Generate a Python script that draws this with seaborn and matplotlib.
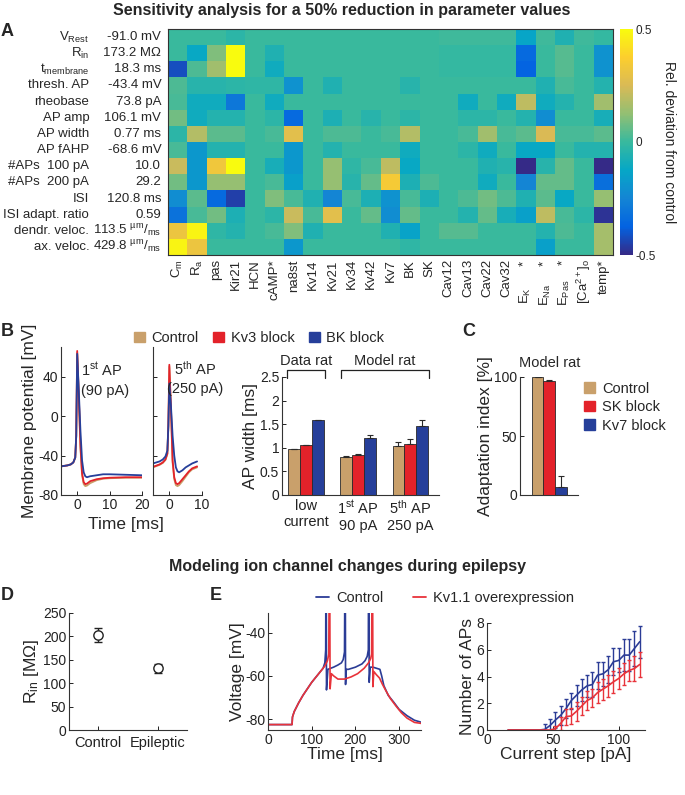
import numpy as np
import pandas as pd
import matplotlib
matplotlib.use("Agg")
import matplotlib.pyplot as plt
import matplotlib.transforms as mtransforms
from matplotlib.colors import LinearSegmentedColormap
from matplotlib.patches import Patch
from matplotlib.lines import Line2D
import seaborn as sns

sns.set_theme(style="white")
plt.rcParams['font.family'] = ['Liberation Sans', 'DejaVu Sans']
plt.rcParams['mathtext.fontset'] = 'custom'
plt.rcParams['mathtext.rm'] = 'Liberation Sans'
plt.rcParams['mathtext.it'] = 'Liberation Sans:italic'
plt.rcParams['mathtext.bf'] = 'Liberation Sans:bold'
plt.rcParams['axes.unicode_minus'] = False

# ---------------- DATA ----------------
param_names = [r"C$_{\rm m}$", r"R$_{\rm a}$", "pas", "Kir21", "HCN", "cAMP*", "na8st",
               "Kv14", "Kv21", "Kv34", "Kv42", "Kv7", "BK", "SK", "Cav12", "Cav13",
               "Cav22", "Cav32", r"E$_{\rm K}$      *", r"E$_{\rm Na}$     *",
               r"E$_{\rm Pas}$    *", r"[Ca$^{2+}$]$_{\rm o}$", "temp*"]
feature_names = [r"V$_{\rm Rest}$", r"R$_{\rm in}$", r"t$_{\rm membrane}$", "thresh. AP",
                 "rheobase", "AP amp", "AP width", "AP fAHP", "#APs  100 pA",
                 "#APs  200 pA", "ISI", "ISI adapt. ratio", "dendr. veloc.", "ax. veloc."]
control_values = ["-91.0 mV", "173.2 MΩ", "18.3 ms", "-43.4 mV", "73.8 pA", "106.1 mV",
                  "0.77 ms", "-68.6 mV", "10.0", "29.2", "120.8 ms", "0.59",
                  r"113.5 $^{\rm µm}/_{\rm ms}$", r"429.8 $^{\rm µm}/_{\rm ms}$"]
sens_r0 = [0, 0, 0, -0.03, 0, 0, 0, 0, 0, 0, 0, 0, 0, 0, 0.01, 0.01, 0.01, 0.01, -0.13, 0.01, -0.06, 0.01, -0.01]
sens_r1 = [0, -0.12, 0.1, 0.5, 0, -0.06, 0, 0, 0, 0, 0, 0, 0, 0, -0.01, -0.01, -0.01, -0.01, -0.35, 0, 0.04, 0, -0.2]
sens_r2 = [-0.42, 0.03, 0.15, 0.5, 0, -0.1, 0, 0, 0, 0, 0, 0, 0, 0, -0.01, -0.01, -0.01, -0.01, -0.37, 0, 0.04, 0, -0.2]
sens_r3 = [0.03, -0.04, -0.04, -0.03, -0.02, -0.02, -0.2, 0, -0.06, 0, 0, 0, -0.04, 0, 0, 0, 0, 0, 0, -0.06, 0.02, 0, -0.05]
sens_r4 = [0.02, -0.1, -0.1, -0.3, 0, -0.1, 0, 0, 0, 0, 0, 0, 0, 0, 0, -0.1, 0, -0.1, 0.2, -0.1, -0.05, 0, 0.15]
sens_r5 = [0.08, -0.1, -0.05, -0.05, 0, -0.03, -0.35, 0, -0.07, 0, -0.04, 0, -0.03, 0, 0, -0.03, -0.03, 0, -0.05, -0.22, 0, 0, -0.08]
sens_r6 = [-0.03, 0.18, 0.05, 0.05, 0, 0.02, 0.28, 0, 0.03, 0.03, 0, 0.02, 0.18, 0, 0, 0.02, 0.15, 0.02, 0.05, 0.25, 0.02, 0.02, 0.05]
sens_r7 = [0.02, -0.18, -0.05, -0.05, 0, 0, -0.18, 0, -0.05, 0, 0, 0, -0.1, 0, 0, -0.03, -0.1, 0, -0.12, -0.12, 0, -0.05, -0.05]
sens_r8 = [0.22, -0.18, 0.33, 0.5, 0, -0.08, -0.18, 0, 0.13, -0.02, 0.02, 0.2, -0.12, 0, 0, 0, -0.06, -0.04, -0.5, -0.04, 0.06, 0, -0.5]
sens_r9 = [0.08, -0.18, 0.13, 0.13, 0, 0.02, -0.15, 0, 0.13, -0.04, 0.06, 0.35, -0.07, 0.03, 0, 0, -0.1, 0, -0.25, 0.06, 0.06, 0, -0.33]
sens_r10 = [-0.22, 0.05, -0.35, -0.45, 0, 0.1, 0.02, -0.06, -0.25, 0.02, -0.07, -0.2, 0.02, -0.07, 0, 0.03, 0.08, 0.03, -0.06, 0.05, -0.12, 0, 0.13]
sens_r11 = [-0.32, 0.02, 0.08, -0.07, 0, -0.03, 0.22, 0.02, 0.28, 0, 0.06, -0.22, 0.06, 0, 0, -0.05, 0.06, -0.08, -0.15, 0.2, 0.02, -0.03, -0.48]
sens_r12 = [0.32, 0.48, -0.02, -0.05, 0, 0.02, 0.1, -0.06, 0, 0, 0, -0.06, -0.14, 0, 0.04, 0.04, 0, 0, 0, -0.05, 0.03, 0, 0.16]
sens_r13 = [0.48, 0.32, 0, 0, 0, 0, -0.18, 0, 0, 0, 0, 0, -0.02, 0, 0, 0, 0, 0, 0, -0.15, 0, 0, 0.16]

# B: AP traces
t_ap1 = [-5, -3, -2, -1.2, -0.6, -0.3, 0, 0.5, 1.0, 1.5, 2.0, 2.5, 3, 4, 6, 8, 10, 15, 20]
v_ap1_ctrl = [-51, -50, -49, -47, -42, -20, 64, 18, -32, -60, -69, -71, -70.5, -68, -65, -63.5, -63, -62.5, -62.5]
v_ap1_kv3 = [-51, -50, -49, -47, -42, -20, 66, 20, -30, -58, -67, -69, -68.5, -66, -64, -63, -62.5, -62, -62]
v_ap1_bk = [-51, -50, -49, -47, -42, -20, 63, 25, -15, -45, -57, -61, -62, -61, -60, -59, -59, -59.5, -60]
t_ap5 = [-5, -3, -2, -1.2, -0.6, -0.3, 0, 0.5, 1.0, 1.5, 2.0, 2.5, 3, 4, 5, 6, 7, 8.5]
v_ap5_ctrl = [-52, -49.5, -47.5, -44.5, -38.5, -10, 50, 5, -47, -64, -70, -71, -70, -66, -61.5, -57, -54, -52]
v_ap5_kv3 = [-51.5, -49, -47, -44, -38, -10, 52, 8, -45, -62, -68, -69, -68, -64, -60, -56, -53, -51]
v_ap5_bk = [-48, -46, -44, -41, -35, -10, 33, 10, -20, -40, -52, -56, -57, -55, -52, -50, -48, -46]

# B: AP width bars
width_groups = ["low\ncurrent", "1$^{\\rm st}$ AP\n90 pA", "5$^{\\rm th}$ AP\n250 pA"]
width_conditions = ["Control", "Kv3 block", "BK block"]
width_ctrl = [0.97, 0.80, 1.03]
width_ctrl_err = [0.01, 0.03, 0.10]
width_kv3 = [1.05, 0.84, 1.07]
width_kv3_err = [0.01, 0.03, 0.11]
width_bk = [1.58, 1.21, 1.46]
width_bk_err = [0.005, 0.07, 0.12]

# C: adaptation index
adapt_conditions = ["Control", "SK block", "Kv7 block"]
adapt_values = [100, 96.8, 6.5]
adapt_err = [0.3, 0.8, 9.5]

# D: input resistance
rin_groups = ["Control", "Epileptic"]
rin_means = [204, 132]
rin_err = [15, 10]

# E: voltage traces
tE_ctrl = [0, 55, 56, 60, 70, 80, 90, 100, 110, 120, 126, 130, 132, 132.6, 133.2, 133.8, 137, 150, 160, 168,
           172, 175, 176.2, 176.8, 177.4, 179, 184, 200, 215, 222, 227, 229.5, 230.2, 230.8, 231.5, 234,
           240, 256, 260, 265, 275, 287, 300, 318, 335, 352]
vE_ctrl = [-82.5, -82.5, -79, -76.5, -72.5, -69, -66, -63, -60.5, -58, -56.5, -54, -48, 0, -10, -66.5, -57, -56, -55, -54,
           -52.5, -49, 0, -10, -64, -57, -57, -56, -54.5, -53, -51, -48, 0, -10, -63, -56,
           -56, -57, -60, -64.5, -69, -72, -75.5, -78.4, -80.5, -81.5]
tE_kv = [0, 55, 56, 60, 70, 80, 90, 100, 110, 120, 130, 136, 139, 140.5, 141.2, 142, 145, 150, 160, 175,
         190, 205, 220, 230, 235, 237, 238.5, 239.2, 240, 242, 248, 255, 262, 270, 280, 293, 305, 318, 335, 352]
vE_kv = [-82.5, -82.5, -79, -76.5, -72.5, -69, -66, -63, -60.5, -58, -55.5, -53, -50, 0, -10, -66, -59, -60, -61.5, -61.5,
         -60.5, -59, -56.5, -54, -52, -50, 0, -10, -65, -58, -59.5, -61, -64, -67, -70.5, -74, -77, -79.5, -81.5, -82]

# E: number of APs vs current
current_steps = [16, 20, 24, 28, 32, 36, 40, 44, 48, 52, 56, 60, 64, 68, 72, 76, 80, 84, 88, 92, 96, 100, 104, 108, 112, 116]
naps_ctrl = [0, 0, 0, 0, 0, 0, 0, 0.05, 0.35, 0.75, 1.1, 1.6, 2.2, 2.6, 3.0, 3.3, 3.4, 4.1, 4.2, 4.5, 5.1, 5.2, 5.6, 5.6, 6.1, 6.6]
naps_ctrl_err = [0, 0, 0, 0, 0, 0, 0, 0.4, 0.5, 0.6, 0.7, 0.7, 0.6, 0.8, 0.8, 0.8, 0.9, 1.0, 0.9, 1.0, 1.0, 0.9, 1.2, 1.2, 1.3, 1.2]
naps_kv = [0, 0, 0, 0, 0, 0, 0, 0, 0, 0.1, 0.5, 1.0, 1.05, 1.4, 1.8, 2.2, 2.4, 2.8, 3.05, 3.3, 3.6, 3.85, 4.2, 4.45, 4.6, 4.9]
naps_kv_err = [0, 0, 0, 0, 0, 0, 0, 0, 0, 0.2, 0.5, 0.6, 0.6, 0.7, 0.7, 0.7, 0.7, 0.8, 0.8, 0.8, 0.8, 0.8, 0.8, 0.8, 0.9, 0.9]

# ---------------- STYLE ----------------
parula = LinearSegmentedColormap.from_list(
    "parula", ["#352a87", "#0363e1", "#1485d4", "#06a7c6", "#38b99e",
               "#92bf73", "#d9ba56", "#fcce2e", "#f9fb0e"])
TAN, RED, BLUE = "#C9A06B", "#E3222A", "#263F9A"
ERED, EBLUE = "#E8333A", "#2B3C96"
W, H = 685, 795
TICK = 10
LAB = 12.5


def rect(x0, y0, x1, y1):
    return [x0 / W, 1 - y1 / H, (x1 - x0) / W, (y1 - y0) / H]


def style_axes(ax):
    sns.despine(ax=ax)
    for s in ["left", "bottom"]:
        ax.spines[s].set_color("#333333")
        ax.spines[s].set_linewidth(0.8)
    ax.tick_params(direction="in", length=3, width=0.7, labelsize=TICK, colors="#222222", pad=2)
    ax.tick_params(axis="both", which="both", left=True, bottom=True)


fig = plt.figure(figsize=(W / 100, H / 100), dpi=100)

# ---------------- PANEL A ----------------
fig.text(342 / W, 1 - 10 / H, "Sensitivity analysis for a 50% reduction in parameter values",
         ha="center", va="center", fontsize=11.5, fontweight="bold")
fig.text(1 / W, 1 - 32 / H, "A", ha="left", va="center", fontsize=13, fontweight="bold")

sens = pd.DataFrame([sens_r0, sens_r1, sens_r2, sens_r3, sens_r4, sens_r5, sens_r6, sens_r7,
                     sens_r8, sens_r9, sens_r10, sens_r11, sens_r12, sens_r13],
                    index=feature_names, columns=param_names)
axA = fig.add_axes(rect(168, 29, 613, 255))
cax = fig.add_axes(rect(620, 29, 633, 255))
sns.heatmap(sens, ax=axA, cmap=parula, vmin=-0.5, vmax=0.5, cbar_ax=cax,
            xticklabels=param_names, yticklabels=False)
for s in axA.spines.values():
    s.set_visible(True)
    s.set_color("#333333")
    s.set_linewidth(0.8)
axA.tick_params(axis="x", length=0, labelsize=9.5, rotation=90, pad=3)
axA.set_xlabel("")
axA.set_ylabel("")
trA = mtransforms.blended_transform_factory(axA.transAxes, axA.transData)
for i, (nm, val) in enumerate(zip(feature_names, control_values)):
    axA.text(-0.177, i + 0.5, nm, transform=trA, ha="right", va="center", fontsize=9.5)
    axA.text(-0.015, i + 0.5, val, transform=trA, ha="right", va="center", fontsize=9.5)
cax.set_yticks([-0.5, 0, 0.5])
cax.set_yticklabels(["-0.5", "0", "0.5"])
cax.tick_params(length=0, labelsize=8.5, pad=2)
cax.set_ylabel("Rel. deviation from control", rotation=270, fontsize=10, labelpad=14)
for s in cax.spines.values():
    s.set_visible(False)

# ---------------- PANEL B ----------------
fig.text(1 / W, 1 - 331 / H, "B", ha="left", va="center", fontsize=13, fontweight="bold")
fig.legend(handles=[Patch(color=TAN, label="Control"), Patch(color=RED, label="Kv3 block"),
                    Patch(color=BLUE, label="BK block")],
           loc="center", bbox_to_anchor=(259 / W, 1 - 338 / H), ncol=3, frameon=False,
           fontsize=10.5, handlelength=0.75, handleheight=0.75, handletextpad=0.45, columnspacing=1.0)

axT1 = fig.add_axes(rect(61, 347, 142, 495))
axT2 = fig.add_axes(rect(153, 347, 202, 495))
for ax, t, vs in [(axT1, t_ap1, [v_ap1_ctrl, v_ap1_kv3, v_ap1_bk]),
                  (axT2, t_ap5, [v_ap5_ctrl, v_ap5_kv3, v_ap5_bk])]:
    for v, c in zip(vs, [TAN, RED, BLUE]):
        sns.lineplot(x=t, y=v, ax=ax, color=c, lw=1.3, sort=False, estimator=None)
    style_axes(ax)
    ax.set_ylim(-80, 70)
    ax.set_yticks([-80, -40, 0, 40])
axT1.set_xlim(-5, 20)
axT1.set_xticks([0, 10, 20])
axT2.set_xlim(-5, 10)
axT2.set_xticks([0, 10])
axT2.set_yticklabels([])
axT1.set_ylabel("Membrane potential [mV]", fontsize=LAB, labelpad=1)
axT1.text(0.50, 0.845, "1$^{\\rm st}$ AP", transform=axT1.transAxes, ha="center", va="center", fontsize=10.5)
axT1.text(0.54, 0.70, "(90 pA)", transform=axT1.transAxes, ha="center", va="center", fontsize=10.5)
axT2.text(0.86, 0.855, "5$^{\\rm th}$ AP", transform=axT2.transAxes, ha="center", va="center", fontsize=10.5)
axT2.text(0.86, 0.715, "(250 pA)", transform=axT2.transAxes, ha="center", va="center", fontsize=10.5)
fig.text(126 / W, 1 - 524 / H, "Time [ms]", ha="center", va="center", fontsize=LAB)

# AP width bars
width_df = pd.DataFrame({
    "group": width_groups * 3,
    "cond": sum([[c] * 3 for c in width_conditions], []),
    "value": width_ctrl + width_kv3 + width_bk,
})
width_errs = [width_ctrl_err, width_kv3_err, width_bk_err]
axBW = fig.add_axes(rect(282, 377, 439, 495))
sns.barplot(data=width_df, x="group", y="value", hue="cond", palette=[TAN, RED, BLUE],
            width=0.68, errorbar=None, edgecolor="#2a2a2a", linewidth=0.6, ax=axBW, legend=False,
            saturation=1)
for cont, errs, col in zip(axBW.containers, width_errs, [TAN, RED, BLUE]):
    xs = [b.get_x() + b.get_width() / 2 for b in cont]
    ys = [b.get_height() for b in cont]
    axBW.errorbar(xs, ys, yerr=[[0] * len(errs), errs], fmt="none", ecolor="#2a2a2a",
                  elinewidth=0.8, capsize=2.5, capthick=0.8)
style_axes(axBW)
axBW.tick_params(axis="x", length=0, pad=3, labelsize=10.5)
axBW.set_xlim(-0.46, 2.55)
axBW.set_ylim(0, 2.5)
axBW.set_yticks([0, 0.5, 1, 1.5, 2, 2.5])
axBW.set_yticklabels(["0", "0.5", "1", "1.5", "2", "2.5"])
axBW.set_xlabel("")
axBW.set_ylabel("AP width [ms]", fontsize=LAB, labelpad=1)
for lo, hi, lab in [(0 - 0.36, 0 + 0.36, "Data rat"), (1 - 0.33, 2 + 0.36, "Model rat")]:
    axBW.plot([lo, lo, hi, hi], [2.47, 2.64, 2.64, 2.47], color="#222222", lw=0.9, clip_on=False)
    axBW.text((lo + hi) / 2, 2.84, lab, ha="center", va="center", fontsize=10.5)

# ---------------- PANEL C ----------------
fig.text(462 / W, 1 - 331 / H, "C", ha="left", va="center", fontsize=13, fontweight="bold")
axC = fig.add_axes(rect(520, 377, 578, 495))
sns.barplot(x=adapt_conditions, y=adapt_values, hue=adapt_conditions, palette=[TAN, RED, BLUE],
            width=1.0, errorbar=None, edgecolor="#2a2a2a", linewidth=0.6, ax=axC, legend=False,
            saturation=1)
axC.errorbar(adapt_conditions, adapt_values, yerr=[[0] * 3, adapt_err], fmt="none", ecolor="#2a2a2a",
             elinewidth=0.8, capsize=2.5, capthick=0.8)
style_axes(axC)
axC.set_xticks([])
axC.set_xlim(-1.5, 3.45)
axC.set_ylim(0, 100)
axC.set_yticks([0, 50, 100])
axC.set_ylabel("Adaptation index [%]", fontsize=LAB, labelpad=1)
axC.text(1, 111.5, "Model rat", ha="center", va="center", fontsize=10.5)
axC.legend(handles=[Patch(color=c, label=l) for c, l in zip([TAN, RED, BLUE], adapt_conditions)],
           loc="upper left", bbox_to_anchor=(578 / W, 1 - 376 / H), bbox_transform=fig.transFigure,
           frameon=False, fontsize=10.5, handlelength=0.75, handleheight=0.75, handletextpad=0.5,
           labelspacing=0.3, borderaxespad=0)

# ---------------- SECOND SECTION ----------------
fig.text(348 / W, 1 - 566 / H, "Modeling ion channel changes during epilepsy",
         ha="center", va="center", fontsize=11.5, fontweight="bold")

# PANEL D
fig.text(1 / W, 1 - 596 / H, "D", ha="left", va="center", fontsize=13, fontweight="bold")
axD = fig.add_axes(rect(69, 613, 187, 730))
axD.errorbar(rin_groups, rin_means, yerr=rin_err, fmt="none", ecolor="#222222",
             elinewidth=1.0, capsize=3, capthick=1.0)
sns.scatterplot(x=rin_groups, y=rin_means, ax=axD, marker="o", s=45,
                facecolor="white", edgecolor="#222222", linewidth=1.0, zorder=3)
style_axes(axD)
axD.set_xlim(-0.48, 1.48)
axD.set_ylim(0, 250)
axD.set_yticks([0, 50, 100, 150, 200, 250])
axD.set_ylabel("R$_{\\rm in}$ [MΩ]", fontsize=LAB, labelpad=1)
axD.tick_params(axis="x", pad=4, labelsize=10.5)

# PANEL E
fig.text(210 / W, 1 - 596 / H, "E", ha="left", va="center", fontsize=13, fontweight="bold")
fig.legend(handles=[Line2D([], [], color=EBLUE, lw=1.3, label="Control"),
                    Line2D([], [], color=ERED, lw=1.3, label="Kv1.1 overexpression")],
           loc="center", bbox_to_anchor=(445 / W, 1 - 598 / H), ncol=2, frameon=False,
           fontsize=10.5, handlelength=0.9, handletextpad=0.5, columnspacing=2.0)
axE1 = fig.add_axes(rect(268, 613, 421, 730))
sns.lineplot(x=tE_ctrl, y=vE_ctrl, ax=axE1, color=EBLUE, lw=1.2, sort=False, estimator=None)
sns.lineplot(x=tE_kv, y=vE_kv, ax=axE1, color=ERED, lw=1.2, sort=False, estimator=None)
style_axes(axE1)
axE1.set_xlim(0, 350)
axE1.set_ylim(-85, -31)
axE1.set_xticks([0, 100, 200, 300])
axE1.set_yticks([-80, -60, -40])
axE1.set_xlabel("Time [ms]", fontsize=LAB, labelpad=0)
axE1.set_ylabel("Voltage [mV]", fontsize=LAB, labelpad=0)

axE2 = fig.add_axes(rect(487, 623, 645, 730))
sns.lineplot(x=current_steps, y=naps_ctrl, ax=axE2, color=EBLUE, lw=1.2, estimator=None)
axE2.errorbar(current_steps[7:], naps_ctrl[7:], yerr=naps_ctrl_err[7:], fmt="none", ecolor=EBLUE,
              elinewidth=1.0, capsize=1.5, capthick=1.0)
sns.lineplot(x=current_steps, y=naps_kv, ax=axE2, color=ERED, lw=1.2, estimator=None)
axE2.errorbar(current_steps[9:], naps_kv[9:], yerr=naps_kv_err[9:], fmt="none", ecolor=ERED,
              elinewidth=1.0, capsize=1.5, capthick=1.0)
style_axes(axE2)
axE2.set_xlim(0, 120)
axE2.set_ylim(0, 8)
axE2.set_xticks([0, 50, 100])
axE2.set_yticks([0, 2, 4, 6, 8])
axE2.set_xlabel("Current step [pA]", fontsize=LAB, labelpad=0)
axE2.set_ylabel("Number of APs", fontsize=LAB, labelpad=1)

fig.savefig("out.png", dpi=100)
